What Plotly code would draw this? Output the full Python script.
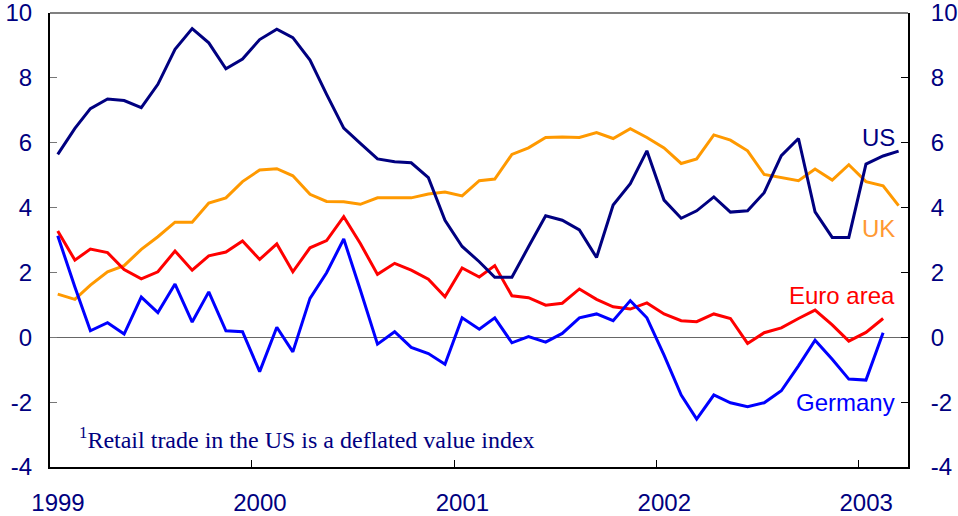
import plotly.graph_objects as go

# Monthly data, Jan 1999 - Mar 2003 (mid-month points)
months = [f"{1999 + i // 12}-{i % 12 + 1:02d}-15" for i in range(51)]

us = [5.64, 6.44, 7.05, 7.35, 7.30, 7.08, 7.80, 8.88, 9.52, 9.08,
      8.28, 8.58, 9.18, 9.50, 9.24, 8.55, 7.49, 6.45, 5.98, 5.50,
      5.41, 5.38, 4.92, 3.61, 2.80, 2.33, 1.85, 1.85, 2.79, 3.75,
      3.61, 3.31, 2.46, 4.08, 4.74, 5.75, 4.23, 3.67, 3.90, 4.33,
      3.86, 3.90, 4.46, 5.60, 6.13, 3.87, 3.08, 3.08, 5.34, 5.59, 5.74]
uk = [1.33, 1.17, 1.61, 2.02, 2.21, 2.71, 3.10, 3.55, 3.55, 4.14,
      4.30, 4.80, 5.16, 5.20, 4.98, 4.41, 4.19, 4.18, 4.10, 4.30,
      4.30, 4.30, 4.42, 4.48, 4.36, 4.83, 4.88, 5.64, 5.84, 6.16,
      6.18, 6.16, 6.31, 6.13, 6.43, 6.16, 5.84, 5.36, 5.50, 6.24,
      6.08, 5.75, 5.02, 4.92, 4.83, 5.19, 4.85, 5.32, 4.80, 4.67, 4.06]
euro = [3.28, 2.38, 2.72, 2.61, 2.09, 1.80, 2.02, 2.66, 2.07, 2.51,
        2.63, 2.97, 2.40, 2.88, 2.02, 2.76, 2.98, 3.72, 2.89, 1.94,
        2.28, 2.07, 1.79, 1.25, 2.14, 1.86, 2.21, 1.28, 1.22, 0.99,
        1.05, 1.49, 1.17, 0.94, 0.87, 1.06, 0.72, 0.51, 0.48, 0.72,
        0.58, -0.19, 0.14, 0.29, 0.58, 0.84, 0.38, -0.12, 0.15, 0.58]
germany = [3.13, 1.55, 0.20, 0.45, 0.10, 1.24, 0.76, 1.64, 0.47, 1.40,
           0.20, 0.17, -1.06, 0.31, -0.45, 1.20, 1.99, 3.03, 1.46, -0.21,
           0.17, -0.31, -0.50, -0.83, 0.60, 0.25, 0.60, -0.17, 0.02, -0.15,
           0.12, 0.60, 0.72, 0.51, 1.13, 0.60, -0.55, -1.78, -2.52, -1.78,
           -2.02, -2.14, -2.02, -1.65, -0.88, -0.09, -0.68, -1.29, -1.32, 0.14]

year_ticks = ["1999-01-01", "2000-01-01", "2001-01-01", "2002-01-01", "2003-01-01"]
year_labels = ["1999", "2000", "2001", "2002", "2003"]
y_ticks = [-4, -2, 0, 2, 4, 6, 8, 10]
y_labels = ["-4", "-2", "0", "2", "4", "6", "8", "10"]

NAVY = "#000080"
series = [
    ("UK", uk, "#FF9900"),
    ("Euro area", euro, "#FF0000"),
    ("Germany", germany, "#0000FF"),
    ("US", us, NAVY),
]

fig = go.Figure()
for name, vals, col in series:
    fig.add_trace(go.Scatter(x=months[:len(vals)], y=vals, mode="lines", name=name,
                             line=dict(color=col, width=3), showlegend=False))
# invisible trace to activate the right-hand axis
fig.add_trace(go.Scatter(x=[months[0]], y=[None], yaxis="y2", showlegend=False,
                         hoverinfo="skip", mode="lines"))

tickfont = dict(family="Liberation Sans, Arial, sans-serif", size=24, color=NAVY)

fig.update_layout(
    width=958, height=516,
    margin=dict(l=50, r=50, t=13, b=49, autoexpand=False),
    paper_bgcolor="white", plot_bgcolor="white",
    xaxis=dict(type="date", range=["1999-01-01", "2003-04-01"],
               tickvals=year_ticks, ticktext=year_labels,
               ticks="inside", ticklen=7, tickcolor="black", tickwidth=1,
               showline=True, linecolor="black", linewidth=2,
               showgrid=False, zeroline=False, tickfont=tickfont, automargin=False,
               ticklabelstandoff=13, ticklabelshift=8, ticklabeloverflow="allow"),
    yaxis=dict(range=[-4, 10], tickvals=y_ticks, ticktext=y_labels,
               ticks="inside", ticklen=7, tickcolor="#777777", tickwidth=1,
               showline=True, linecolor="black", linewidth=2,
               showgrid=False, zeroline=True, zerolinecolor="#666666", zerolinewidth=1,
               tickfont=tickfont, ticklabelstandoff=11, automargin=False,
               ticklabeloverflow="allow"),
    yaxis2=dict(range=[-4, 10], tickvals=y_ticks, ticktext=y_labels,
                overlaying="y", side="right",
                ticks="inside", ticklen=7, tickcolor="black", tickwidth=1,
                showline=True, linecolor="black", linewidth=2,
                showgrid=False, zeroline=False, tickfont=tickfont,
                ticklabelstandoff=16, automargin=False, ticklabeloverflow="allow"),
)

# top border (grey)
fig.add_shape(type="line", xref="paper", yref="paper", x0=0, x1=1, y0=1, y1=1,
              line=dict(color="#808080", width=2))

labfont = "Liberation Sans, Arial, sans-serif"
labels = [("US", 6.17, NAVY), ("UK", 3.37, "#FF9933"),
          ("Euro area", 1.30, "#FF0000"), ("Germany", -2.0, "#0000FF")]
for txt, yv, col in labels:
    fig.add_annotation(x=0.9875, xref="paper", y=yv, yref="y", text=txt,
                       showarrow=False, xanchor="right", yanchor="middle",
                       font=dict(family=labfont, size=24, color=col))

fig.add_annotation(x=0.031, xref="paper", y=-3.1, yref="y",
                   text="<sup>1</sup>Retail trade in the US is a deflated value index",
                   showarrow=False, xanchor="left", yanchor="middle",
                   font=dict(family="Liberation Serif, Times New Roman, serif", size=24, color=NAVY))

fig.write_html("out.html", config={"displayModeBar": False},
               post_script="document.body.style.margin='0';document.body.style.overflow='hidden';")
